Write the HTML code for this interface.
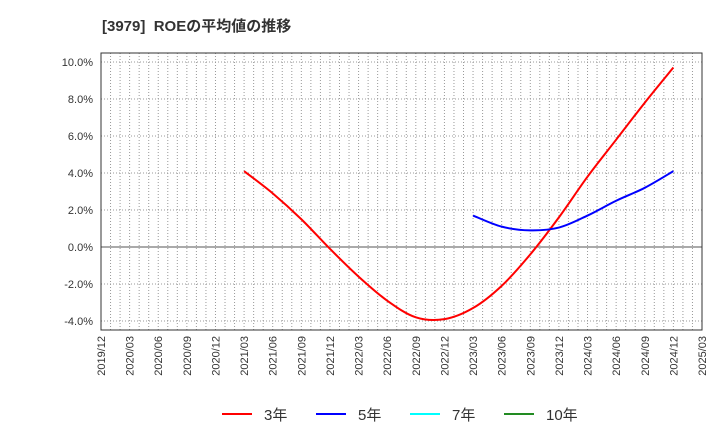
<!DOCTYPE html>
<html><head><meta charset="utf-8"><style>
body{margin:0;background:#fff;font-family:"Liberation Sans","Noto Sans CJK JP",sans-serif}
</style></head><body>
<svg width="720" height="440" xmlns="http://www.w3.org/2000/svg">
<text x="102" y="31" font-size="15" font-weight="bold" fill="#333" font-family="Liberation Sans, Noto Sans CJK JP, sans-serif">[3979]&#160;&#160;ROEの平均値の推移</text>
<g id="grid"></g><g id="axes"></g><g id="series"></g><g id="legend"></g>
</svg>
<script>
const xLabels=["2019/12","2020/03","2020/06","2020/09","2020/12","2021/03","2021/06","2021/09","2021/12","2022/03","2022/06","2022/09","2022/12","2023/03","2023/06","2023/09","2023/12","2024/03","2024/06","2024/09","2024/12","2025/03"];
const yTicks=[-4,-2,0,2,4,6,8,10];
const roe3Start=5;
const roe3=[4.1,2.9,1.5,-0.1,-1.6,-2.9,-3.8,-3.9,-3.3,-2.1,-0.4,1.6,3.8,5.8,7.8,9.7];
const roe5Start=13;
const roe5=[1.7,1.1,0.9,1.05,1.7,2.5,3.2,4.1];
const NS="http://www.w3.org/2000/svg";
const L=101,R=702,T=53,B=330;
const X=i=>L+i*(R-L)/21;
const Y=v=>247-v*18.5;
function mk(t,a,p){const e=document.createElementNS(NS,t);for(const k in a)e.setAttribute(k,a[k]);p.appendChild(e);return e;}
const g=document.getElementById('grid'),ax=document.getElementById('axes'),sg=document.getElementById('series'),lg=document.getElementById('legend');
for(let m=1;m<63;m++){const x=L+m*(R-L)/63;
const l=mk('line',{x1:x,x2:x,y1:T,y2:B,stroke:'#999','stroke-dasharray':'1,2','stroke-width':1},g);
}
yTicks.forEach(v=>{const y=Y(v);
const l=mk('line',{x1:L,x2:R,y1:y,y2:y,stroke:v===0?'#555':'#999','stroke-dasharray':v===0?'':'1,2','stroke-width':1},g);

const t=mk('text',{x:L-8,y:y+4,'text-anchor':'end','font-size':11,fill:'#333'},ax);t.textContent=v.toFixed(1)+'%';
});
const fr=mk('rect',{x:L,y:T,width:R-L,height:B-T,fill:'none',stroke:'#333'},ax);

xLabels.forEach((s,i)=>{const x=X(i)+4,y=B+6;
const t=mk('text',{x:x,y:y,transform:`rotate(-90 ${x} ${y})`,'text-anchor':'end','font-size':11,fill:'#333'},ax);t.textContent=s;
});
function path(vals,start){const p=vals.map((v,i)=>[X(start+i),Y(v)]);let d=`M${p[0][0]},${p[0][1]}`;
for(let i=0;i<p.length-1;i++){const p0=p[i-1]||p[i],p1=p[i],p2=p[i+1],p3=p[i+2]||p2;
d+=` C${p1[0]+(p2[0]-p0[0])/6},${p1[1]+(p2[1]-p0[1])/6} ${p2[0]-(p3[0]-p1[0])/6},${p2[1]-(p3[1]-p1[1])/6} ${p2[0]},${p2[1]}`;}return d;}
const s3=mk('path',{d:path(roe3,roe3Start),fill:'none',stroke:'#f00','stroke-width':2},sg);

const s5=mk('path',{d:path(roe5,roe5Start),fill:'none',stroke:'#00f','stroke-width':2},sg);

[['3年','#f00',222],['5年','#00f',316],['7年','#0ff',410],['10年','#228b22',504]].forEach(([n,c,x])=>{
const gg=mk('g',{},lg);
mk('line',{x1:x,x2:x+30,y1:414,y2:414,stroke:c,'stroke-width':2},gg);
const t=mk('text',{x:x+42,y:420,'font-size':15,fill:'#333'},gg);t.textContent=n;});
</script>
</body></html>
